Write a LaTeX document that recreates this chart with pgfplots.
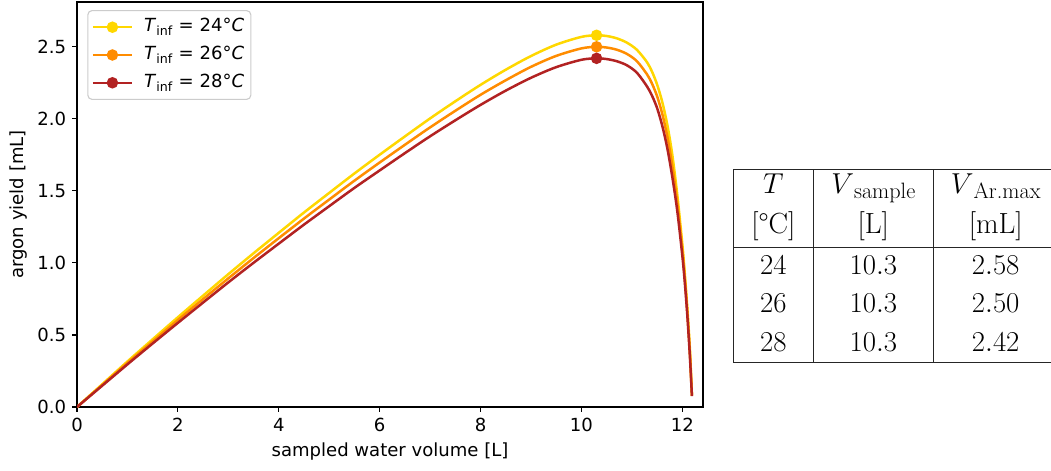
\documentclass[border=0pt]{standalone}
\usepackage{amsmath}
\usepackage{pgfplots}
\usepackage{pgfplotstable}
\pgfplotsset{compat=1.18}
\usepackage{fontspec}
\setmainfont{DejaVu Sans}
\newfontfamily\lmr{Latin Modern Roman}
\definecolor{cgold}{RGB}{255,215,0}
\definecolor{corange}{RGB}{255,140,0}
\definecolor{cred}{RGB}{178,34,34}
\definecolor{lframe}{RGB}{204,204,204}
\newdimen\pxu \pxu=0.72pt

\pgfplotstableread{
x y
0 0
0.5 0.158
1 0.316
1.5 0.470
2 0.623
2.5 0.773
3 0.922
3.5 1.067
4 1.209
4.5 1.350
5 1.486
5.5 1.621
6 1.751
6.5 1.878
7 2.003
7.5 2.122
8 2.236
8.5 2.341
9 2.436
9.5 2.515
10 2.569
10.3 2.580
10.5 2.575
10.7 2.559
10.9 2.529
11.1 2.479
11.3 2.393
11.4 2.327
11.5 2.238
11.6 2.120
11.7 1.963
11.8 1.753
11.9 1.473
12.0 1.130
12.05 0.920
12.1 0.680
12.15 0.400
12.19 0.080
}\yellowdata

\pgfplotstableread{
x y
0 0
0.5 0.153
1 0.306
1.5 0.455
2 0.604
2.5 0.749
3 0.893
3.5 1.034
4 1.172
4.5 1.308
5 1.440
5.5 1.571
6 1.697
6.5 1.820
7 1.941
7.5 2.056
8 2.167
8.5 2.268
9 2.361
9.5 2.437
10 2.489
10.3 2.500
10.5 2.495
10.7 2.480
10.9 2.451
11.1 2.400
11.3 2.309
11.4 2.244
11.5 2.157
11.6 2.038
11.7 1.882
11.8 1.677
11.9 1.417
12.0 1.090
12.05 0.890
12.1 0.655
12.15 0.375
12.19 0.078
}\orangedata

\pgfplotstableread{
x y
0 0
0.5 0.148
1 0.296
1.5 0.441
2 0.584
2.5 0.725
3 0.865
3.5 1.001
4 1.134
4.5 1.266
5 1.394
5.5 1.521
6 1.642
6.5 1.762
7 1.879
7.5 1.990
8 2.097
8.5 2.196
9 2.285
9.5 2.359
10 2.410
10.3 2.420
10.5 2.415
10.7 2.400
10.9 2.372
11.1 2.320
11.3 2.225
11.4 2.160
11.5 2.075
11.6 1.955
11.7 1.800
11.8 1.600
11.9 1.360
12.0 1.050
12.05 0.860
12.1 0.630
12.15 0.350
12.19 0.076
}\reddata

\begin{document}
\fontsize{13}{15.6}\selectfont
\begin{tikzpicture}
\begin{axis}[
  at={(77\pxu,-407\pxu)}, anchor=south west,
  scale only axis, width=626\pxu, height=405\pxu,
  xmin=0, xmax=12.41, ymin=0, ymax=2.811,
  xtick={0,2,4,6,8,10,12},
  ytick={0,0.5,1,1.5,2,2.5},
  yticklabel style={/pgf/number format/.cd, fixed, fixed zerofill, precision=1},
  /pgf/number format/assume math mode=true,
  tick align=outside, tick pos=left,
  major tick length=4.7\pxu,
  axis line style={line width=1.1\pxu},
  every tick/.style={black, line width=1.1\pxu},
  xlabel={sampled water volume [L]},
  ylabel={argon yield [mL]},
  every axis x label/.style={at={(axis description cs:0.5,-0.111)}, anchor=center},
  every axis y label/.style={at={(axis description cs:-0.0927,0.5)}, rotate=90, anchor=center},
  legend cell align=left,
  legend style={at={(axis description cs:0,1)}, anchor=north west,
    xshift=7.4pt, yshift=-5.8pt, draw=lframe, line width=0.8pt,
    rounded corners=3pt, fill=white, inner xsep=2.8pt, inner ysep=3.7pt,
    row sep=3.5pt,
    nodes={inner sep=2pt, text height=9.5pt, text depth=3pt},
    /tikz/every odd column/.append style={column sep=5.9pt}},
  legend image code/.code={
    \draw[#1, mark=none] (0pt,0pt) -- (28pt,0pt);
    \fill[#1] (14pt,0pt) circle (3.2pt);
  },
]
\addplot[cgold, line width=1.8pt, smooth, mark=*, mark indices={22}, mark size=3.2pt] table {\yellowdata};
\addlegendentry{\textit{T}\textsubscript{inf} = 24°\textit{C}}
\addplot[corange, line width=1.8pt, smooth, mark=*, mark indices={22}, mark size=3.2pt] table {\orangedata};
\addlegendentry{\textit{T}\textsubscript{inf} = 26°\textit{C}}
\addplot[cred, line width=1.8pt, smooth, mark=*, mark indices={22}, mark size=3.2pt] table {\reddata};
\addlegendentry{\textit{T}\textsubscript{inf} = 28°\textit{C}}
\end{axis}

\begin{scope}[x=0.72pt, y=-0.72pt]
  \draw[line width=0.8pt, black!85]
    (733.3,169.3) -- (1060,169.3)
    (733.3,247.3) -- (1060,247.3)
    (733.3,362.7) -- (1060,362.7)
    (733.3,169.3) -- (733.3,362.7)
    (813.3,169.3) -- (813.3,362.7)
    (933.3,169.3) -- (933.3,362.7);
  \begin{scope}[every node/.style={anchor=base, inner sep=0pt, font=\lmr\fontsize{21}{25}\selectfont}]
    \node at (773.3,193.3) {$T$};
    \node at (873.3,193.3) {$V$\raisebox{-4pt}{\fontsize{16}{18}\selectfont sample}};
    \node at (995.7,193.3) {$V$\raisebox{-4pt}{\fontsize{16}{18}\selectfont Ar.max}};
    \node at (773.3,233.3) {[°C]};
    \node at (873.3,233.3) {[L]};
    \node at (995.7,233.3) {[mL]};
    \node at (773.3,274.3) {$24$};
    \node at (873.3,274.3) {$10.3$};
    \node at (995.7,274.3) {$2.58$};
    \node at (773.3,312.6) {$26$};
    \node at (873.3,312.6) {$10.3$};
    \node at (995.7,312.6) {$2.50$};
    \node at (773.3,351) {$28$};
    \node at (873.3,351) {$10.3$};
    \node at (995.7,351) {$2.42$};
  \end{scope}
\end{scope}

\pgfresetboundingbox
\path[use as bounding box] (0pt,0pt) rectangle (756.72pt,-338.4pt);
\end{tikzpicture}
\end{document}
